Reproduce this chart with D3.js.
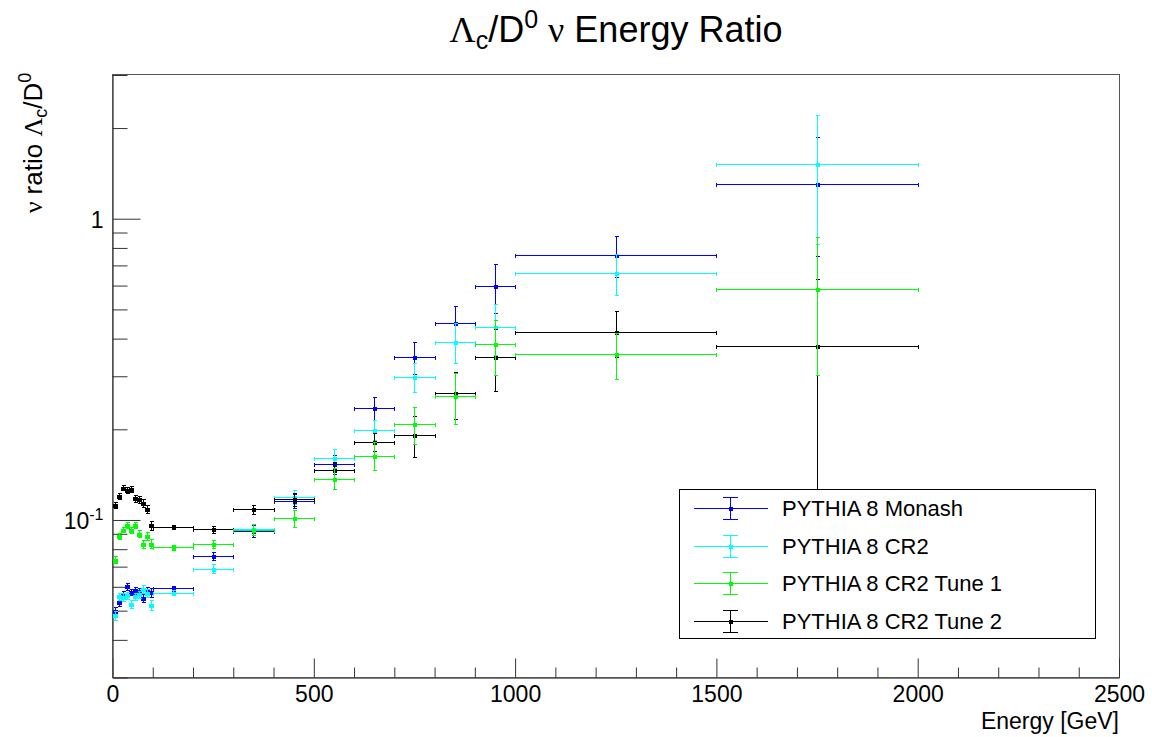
<!DOCTYPE html>
<html><head><meta charset="utf-8">
<script src="https://cdn.jsdelivr.net/npm/d3@7"></script>
<style>body{margin:0;background:#fff}svg{display:block}</style>
</head><body><svg id="c" width="1152" height="737"></svg>
<script>
// ---- data ----
const energyCenters = [5,15,25,35,45,55,65,75,85,95,150,250,350,450,550,650,750,850,950,1250,1750];
const energyHalfWidths = [5,5,5,5,5,5,5,5,5,5,50,50,50,50,50,50,50,50,50,250,250];
const monashRatio = [0.050,0.0534,0.0566,0.0602,0.0577,0.0584,0.058,0.0552,0.058,0.0575,0.0594,0.0760,0.092,0.116,0.153,0.2355,0.3463,0.450,0.5975,0.759,1.307];
const monashErr   = [0.0015,0.0015,0.0015,0.0016,0.0015,0.0015,0.0015,0.0016,0.0017,0.0018,0.0012,0.0025,0.004,0.006,0.011,0.021,0.042,0.064,0.111,0.119,0.557];
const cr2Ratio = [0.0482,0.0558,0.0555,0.0562,0.0528,0.0558,0.0566,0.0591,0.0572,0.0521,0.0574,0.0690,0.093,0.1193,0.160,0.1996,0.2985,0.390,0.4367,0.6615,1.516];
const cr2Err   = [0.0018,0.0016,0.0016,0.0016,0.0016,0.0016,0.0017,0.0018,0.0019,0.002,0.0012,0.0025,0.004,0.006,0.012,0.015,0.0325,0.059,0.083,0.104,0.69];
const tune1Ratio = [0.0739,0.0883,0.0929,0.096,0.0929,0.096,0.0901,0.083,0.0885,0.0835,0.0813,0.0830,0.0929,0.1015,0.1373,0.1636,0.208,0.258,0.3825,0.355,0.585];
const tune1Err   = [0.002,0.002,0.002,0.0022,0.0022,0.0023,0.0024,0.0025,0.0027,0.003,0.0015,0.0025,0.004,0.0067,0.011,0.0173,0.029,0.049,0.079,0.062,0.282];
const tune2Ratio = [0.112,0.120,0.128,0.1255,0.127,0.118,0.117,0.114,0.109,0.096,0.0948,0.0931,0.1085,0.117,0.146,0.1817,0.192,0.263,0.348,0.421,0.3767];
const tune2Err   = [0.0025,0.0025,0.0026,0.0027,0.0028,0.003,0.0031,0.0032,0.0034,0.0036,0.0015,0.0025,0.004,0.006,0.01,0.012,0.030,0.046,0.081,0.074,0.254];
const seriesNames = ["PYTHIA 8 Monash","PYTHIA 8 CR2","PYTHIA 8 CR2 Tune 1","PYTHIA 8 CR2 Tune 2"];
const seriesColors = ["#0000ff","#00ffff","#00ff00","#000000"];
const xTickValues = [0,500,1000,1500,2000,2500];
const yMajorTicks = [0.1,1];
const yMajorLabels = [["10","-1"],["1",null]];

const series = [
  {name:seriesNames[0], color:seriesColors[0], v:monashRatio, e:monashErr},
  {name:seriesNames[1], color:seriesColors[1], v:cr2Ratio, e:cr2Err},
  {name:seriesNames[2], color:seriesColors[2], v:tune1Ratio, e:tune1Err},
  {name:seriesNames[3], color:seriesColors[3], v:tune2Ratio, e:tune2Err}
];
const drawOrder = [0,1,3,2];

// ---- layout ----
const FONT = "'Liberation Sans', Arial, Helvetica, sans-serif";
const SERIF = "'Liberation Serif', 'Times New Roman', serif";
const L = 112.5, R = 1119, T = 73.7, B = 677.5;
const svg = d3.select("#c");
const x = d3.scaleLinear().domain([0,2500]).range([L,R]);
const y = d3.scaleLog().domain([0.03,3.03]).range([B,T]);

// frame
svg.append("rect").attr("x",L).attr("y",T+0.3).attr("width",R-L).attr("height",B-T)
  .attr("fill","none").attr("stroke","#555").attr("stroke-width",1).attr("shape-rendering","crispEdges");

// x axis
const minorX = d3.range(0,2501,100).filter(d=>d%500!==0);
const gx = svg.append("g").attr("transform",`translate(0,${B})`);
gx.call(d3.axisBottom(x).tickValues(xTickValues).tickSizeInner(-19).tickSizeOuter(0).tickPadding(8).tickFormat(d3.format("d")));
const gxm = svg.append("g").attr("transform",`translate(0,${B})`);
gxm.call(d3.axisBottom(x).tickValues(minorX).tickSizeInner(-10).tickSizeOuter(0).tickFormat(""));
[gx,gxm].forEach(g=>{g.select(".domain").attr("stroke","#555");g.selectAll("line").attr("stroke","#333");});
gx.selectAll("text").attr("font-family",FONT).attr("font-size",23).attr("fill","#000").attr("dy","0.72em");

// y axis
const minorY = [];
[0.01,0.1,1].forEach(dec=>{for(let k=2;k<=9;k++){const v=k*dec; if(v>=0.03&&v<=3.03) minorY.push(v);}});
const gy = svg.append("g").attr("transform",`translate(${L},0)`);
gy.call(d3.axisLeft(y).tickValues(yMajorTicks).tickSizeInner(-28).tickSizeOuter(0).tickPadding(10).tickFormat(""));
const gym = svg.append("g").attr("transform",`translate(${L},0)`);
gym.call(d3.axisLeft(y).tickValues(minorY).tickSizeInner(-15).tickSizeOuter(0).tickFormat(""));
[gy,gym].forEach(g=>{g.select(".domain").attr("stroke","#555");g.selectAll("line").attr("stroke","#333");});
gy.selectAll(".tick").each(function(d,i){
  const t = d3.select(this).select("text").attr("font-family",FONT).attr("font-size",23).attr("fill","#000")
    .attr("x",-9).attr("dy","0.36em").attr("text-anchor","end").text(null);
  const lab = yMajorLabels[i];
  t.append("tspan").text(lab[0]);
  if(lab[1]) t.append("tspan").attr("dy","-0.55em").attr("font-size",16).text(lab[1]);
});

// data
const pts = svg.append("g");
drawOrder.forEach(si=>{
  const s = series[si];
  const g = pts.append("g").attr("stroke",s.color).attr("stroke-width",1).attr("fill",s.color).attr("shape-rendering","crispEdges");
  energyCenters.forEach((c,i)=>{
    const cx = Math.round(x(c))+0.5, cy = Math.round(y(s.v[i]))+0.5;
    const x0 = Math.round(x(c-energyHalfWidths[i]))+0.5, x1 = Math.round(x(c+energyHalfWidths[i]))+0.5;
    const yt = Math.round(y(s.v[i]+s.e[i]))+0.5, yb = Math.round(y(s.v[i]-s.e[i]))+0.5;
    g.append("line").attr("x1",x0).attr("x2",x1).attr("y1",cy).attr("y2",cy);
    g.append("line").attr("x1",x0).attr("x2",x0).attr("y1",cy-2).attr("y2",cy+2);
    g.append("line").attr("x1",x1).attr("x2",x1).attr("y1",cy-2).attr("y2",cy+2);
    g.append("line").attr("x1",cx).attr("x2",cx).attr("y1",yt).attr("y2",yb);
    g.append("line").attr("x1",cx-2).attr("x2",cx+2).attr("y1",yt).attr("y2",yt);
    g.append("line").attr("x1",cx-2).attr("x2",cx+2).attr("y1",yb).attr("y2",yb);
    g.append("rect").attr("x",cx-2).attr("y",cy-2).attr("width",4).attr("height",4).attr("stroke","none");
  });
});

// legend
const lg = svg.append("g");
lg.append("rect").attr("x",679.5).attr("y",489.5).attr("width",415.5).attr("height",148.5)
  .attr("fill","#fff").attr("stroke","#000").attr("stroke-width",1).attr("shape-rendering","crispEdges");
series.forEach((s,i)=>{
  const cy = Math.round(508 + i*37.5)+0.5;
  const e = lg.append("g").attr("stroke",s.color).attr("fill",s.color).attr("shape-rendering","crispEdges");
  e.append("line").attr("x1",694).attr("x2",768).attr("y1",cy).attr("y2",cy);
  e.append("line").attr("x1",730.5).attr("x2",730.5).attr("y1",cy-11).attr("y2",cy+11);
  e.append("line").attr("x1",723).attr("x2",738).attr("y1",cy-11).attr("y2",cy-11);
  e.append("line").attr("x1",723).attr("x2",738).attr("y1",cy+11).attr("y2",cy+11);
  e.append("rect").attr("x",728.5).attr("y",cy-2).attr("width",4).attr("height",4).attr("stroke","none");
  lg.append("text").attr("x",782).attr("y",cy).attr("dy","0.36em").attr("font-family",FONT)
    .attr("font-size",22).attr("fill","#000").text(s.name);
});

// title
const title = svg.append("text").attr("x",616).attr("y",42).attr("text-anchor","middle")
  .attr("font-family",FONT).attr("font-size",36).attr("fill","#000");
title.append("tspan").attr("font-family",SERIF).text("Λ");
title.append("tspan").attr("font-size",25).attr("dy",7).text("c");
title.append("tspan").attr("dy",-7).text("/D");
title.append("tspan").attr("font-size",25).attr("dy",-14).text("0");
title.append("tspan").attr("dy",14).text(" ");
title.append("tspan").attr("font-family",SERIF).text("ν");
title.append("tspan").text(" Energy Ratio");

// axis titles
svg.append("text").attr("x",R).attr("y",728.5).attr("text-anchor","end").attr("font-family",FONT)
  .attr("font-size",23).attr("fill","#000").text("Energy [GeV]");
const yt = svg.append("text").attr("transform",`translate(42,${T-1}) rotate(-90)`).attr("text-anchor","end")
  .attr("font-family",FONT).attr("font-size",26).attr("fill","#000");
yt.append("tspan").attr("font-family",SERIF).text("ν");
yt.append("tspan").text(" ratio ");
yt.append("tspan").attr("font-family",SERIF).text("Λ");
yt.append("tspan").attr("font-size",18).attr("dy",5).text("c");
yt.append("tspan").attr("dy",-5).text("/D");
yt.append("tspan").attr("font-size",18).attr("dy",-11).text("0");
</script></body></html>
